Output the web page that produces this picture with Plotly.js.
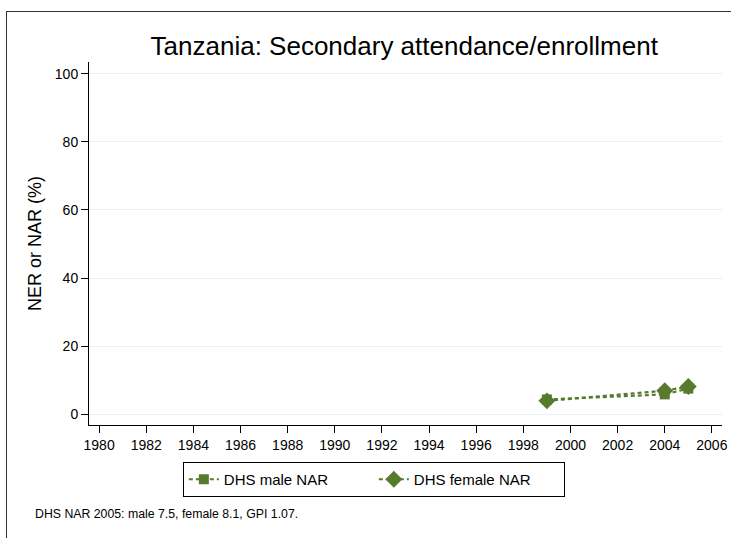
<!DOCTYPE html>
<html>
<head>
<meta charset="utf-8">
<script src="https://cdn.plot.ly/plotly-3.0.1.min.js"></script>
<style>
html,body{margin:0;padding:0;background:#fff;}
#wrap{position:relative;width:731px;height:538px;}
#chart{position:absolute;left:0;top:0;width:731px;height:538px;}
#frame{position:absolute;left:6px;top:11px;width:740px;height:540px;border-left:1px solid #333;border-top:1px solid #333;pointer-events:none;}
</style>
</head>
<body>
<div id="wrap"><div id="chart"></div><div id="frame"></div></div>
<script>
const years = [1999, 2004, 2005];
const maleNAR = [4.3, 5.8, 7.5];
const femaleNAR = [3.9, 6.9, 8.1];
const xTicks = [1980,1982,1984,1986,1988,1990,1992,1994,1996,1998,2000,2002,2004,2006];
const yTicks = [0,20,40,60,80,100];
const titleText = "Tanzania: Secondary attendance/enrollment";
const noteText = "DHS NAR 2005: male 7.5, female 8.1, GPI 1.07.";
const green = "#577a2d";
const font = "Liberation Sans, Arial, sans-serif";

const traces = [
  {x: years, y: maleNAR, name: "DHS male NAR", type: "scatter", mode: "lines+markers",
   line: {color: green, dash: "4px,3px", width: 2.2}, marker: {symbol: "square", size: 10, color: green}},
  {x: years, y: femaleNAR, name: "DHS female NAR", type: "scatter", mode: "lines+markers",
   line: {color: green, dash: "4px,3px", width: 2.2}, marker: {symbol: "diamond", size: 13, color: green}}
];

const layout = {
  width: 731, height: 538,
  margin: {l: 89, r: 9, t: 62, b: 113},
  paper_bgcolor: "#fff", plot_bgcolor: "#fff",
  font: {family: font, color: "#000", size: 14},
  title: {text: titleText, font: {size: 26, color: "#000"}, x: 0.553, xanchor: "center", y: 0.915, yanchor: "middle"},
  showlegend: true,
  legend: {orientation: "h", x: 0.45, xanchor: "center", y: -0.1019, yanchor: "top",
    bordercolor: "#000", borderwidth: 1, font: {size: 15}, entrywidth: 145, tracegroupgap: 0},
  xaxis: {range: [1979.57, 2006.43], tickvals: xTicks, ticktext: xTicks.map(String),
    ticks: "outside", ticklen: 7, tickcolor: "#000", showline: true, linecolor: "#000",
    showgrid: false, zeroline: false, tickfont: {size: 14}},
  yaxis: {range: [-3.2, 103.5], tickvals: yTicks, ticktext: yTicks.map(String),
    ticks: "outside", ticklen: 7, tickcolor: "#000", showline: true, linecolor: "#000",
    showgrid: true, gridcolor: "#eaf1f3", gridwidth: 1, zeroline: false, tickfont: {size: 14},
    title: {text: "NER or NAR (%)", font: {size: 18}, standoff: 8}},
  annotations: [{text: noteText, xref: "paper", yref: "paper", x: -0.0885, y: -0.246,
    xanchor: "left", yanchor: "middle", showarrow: false, font: {size: 12.3}}]
};

Plotly.newPlot("chart", traces, layout, {displayModeBar: false, staticPlot: true});
</script>
</body>
</html>
